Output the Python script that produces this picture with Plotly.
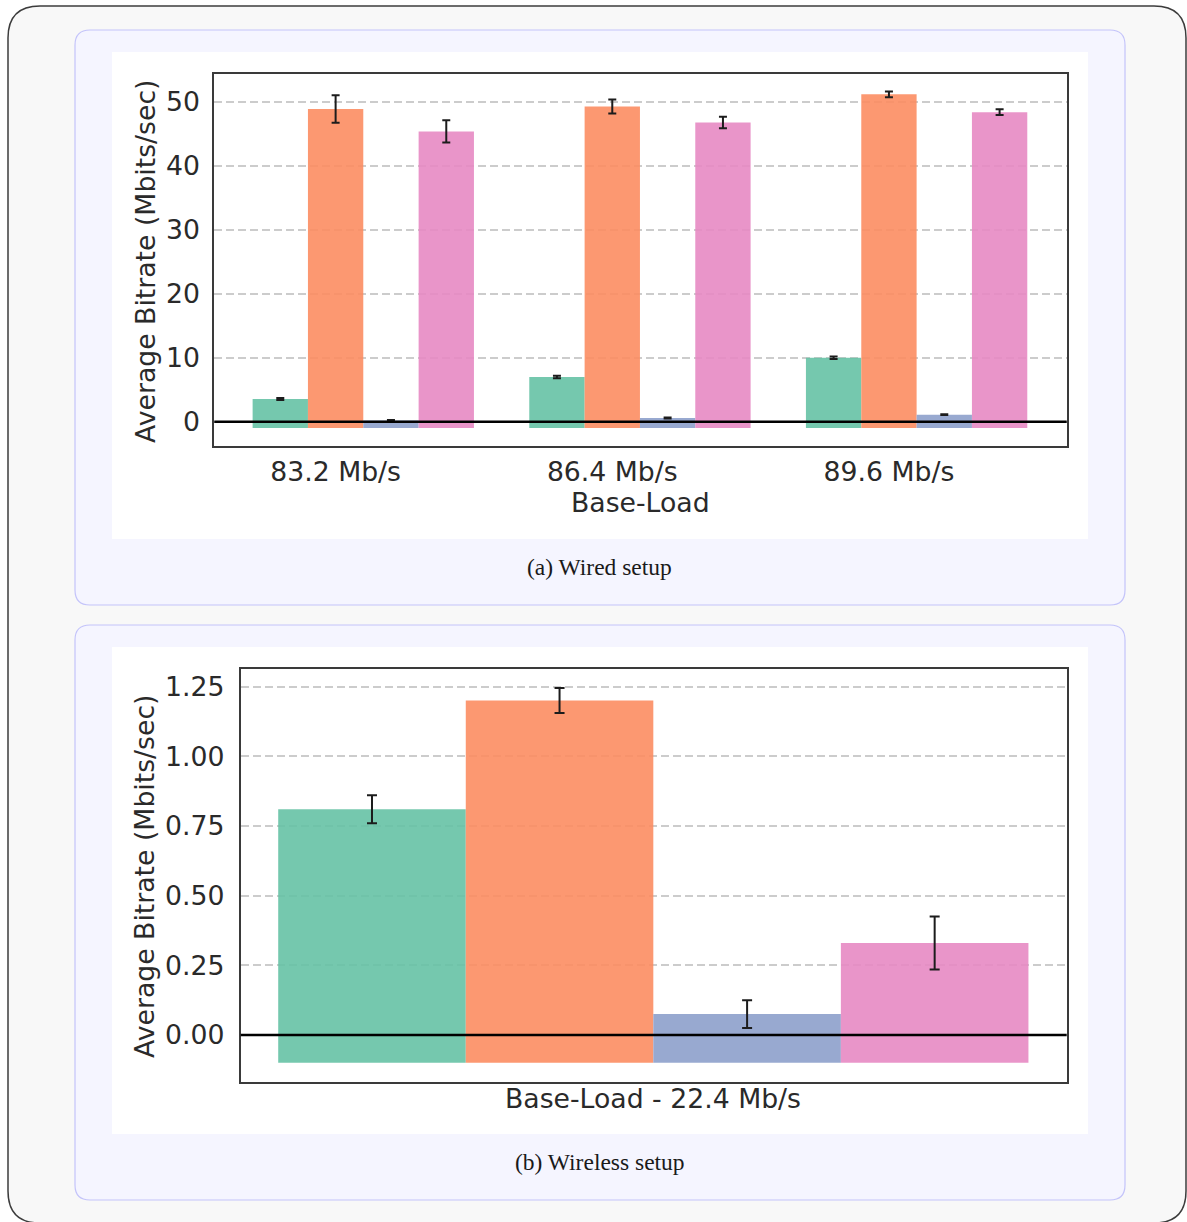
import plotly.graph_objects as go

# ---- data -------------------------------------------------------------
base_loads = ["83.2 Mb/s", "86.4 Mb/s", "89.6 Mb/s"]

wired_green = [3.55, 7.0, 10.0]
wired_green_err = [0.15, 0.2, 0.2]
wired_orange = [48.9, 49.3, 51.2]
wired_orange_err = [2.15, 1.1, 0.45]
wired_blue = [0.2, 0.58, 1.1]
wired_blue_err = [0.08, 0.08, 0.05]
wired_pink = [45.4, 46.8, 48.4]
wired_pink_err = [1.75, 0.9, 0.45]

wireless_label = "Base-Load - 22.4 Mb/s"
wireless_values = [0.81, 1.20, 0.075, 0.33]
wireless_err = [0.05, 0.045, 0.05, 0.095]

y_ticks_wired = [0, 10, 20, 30, 40, 50]
y_ticks_wireless = [0.0, 0.25, 0.5, 0.75, 1.0, 1.25]

# ---- style ------------------------------------------------------------
W, H = 1187, 1222
COLORS = ["#66c2a5", "#fc8d62", "#8da0cb", "#e78ac3"]
BAR_W = 0.2
TEXT = "#2a2a2a"
SANS = "DejaVu Sans"
SERIF = "Liberation Serif"
FS = 26.7


def px(x):
    return x / W


def py(y):
    return 1 - y / H


def rounded_rect(x0, y0, x1, y1, r):
    pts = [
        ("M", [(x0 + r, y0)]),
        ("L", [(x1 - r, y0)]),
        ("Q", [(x1, y0), (x1, y0 + r)]),
        ("L", [(x1, y1 - r)]),
        ("Q", [(x1, y1), (x1 - r, y1)]),
        ("L", [(x0 + r, y1)]),
        ("Q", [(x0, y1), (x0, y1 - r)]),
        ("L", [(x0, y0 + r)]),
        ("Q", [(x0, y0), (x0 + r, y0)]),
    ]
    s = ""
    for cmd, coords in pts:
        s += cmd + " " + " ".join(f"{px(a):.6f},{py(b):.6f}" for a, b in coords) + " "
    return s + "Z"


fig = go.Figure()

# ---- wired panel bars -------------------------------------------------
wired_series = [
    (wired_green, wired_green_err),
    (wired_orange, wired_orange_err),
    (wired_blue, wired_blue_err),
    (wired_pink, wired_pink_err),
]
WIRED_FLOOR = -1.0
for k, (vals, errs) in enumerate(wired_series):
    xs = [i + (k - 1.5) * BAR_W for i in range(len(base_loads))]
    fig.add_trace(go.Bar(
        x=xs, y=[v - WIRED_FLOOR for v in vals], base=WIRED_FLOOR,
        width=BAR_W, marker=dict(color=COLORS[k], line=dict(width=0)),
        opacity=0.9, xaxis="x", yaxis="y", showlegend=False,
    ))
    fig.add_trace(go.Scatter(
        x=xs, y=vals, mode="markers", marker=dict(size=1, opacity=0),
        error_y=dict(type="data", array=errs, visible=True,
                     color="#1c1c1c", thickness=2, width=4),
        xaxis="x", yaxis="y", showlegend=False, hoverinfo="skip",
    ))

# ---- wireless panel bars ----------------------------------------------
WIRELESS_FLOOR = -0.1
for k, (v, e) in enumerate(zip(wireless_values, wireless_err)):
    xk = (k - 1.5) * BAR_W
    fig.add_trace(go.Bar(
        x=[xk], y=[v - WIRELESS_FLOOR], base=WIRELESS_FLOOR,
        width=BAR_W, marker=dict(color=COLORS[k], line=dict(width=0)),
        opacity=0.9, xaxis="x2", yaxis="y2", showlegend=False,
    ))
    fig.add_trace(go.Scatter(
        x=[xk], y=[v], mode="markers", marker=dict(size=1, opacity=0),
        error_y=dict(type="data", array=[e], visible=True,
                     color="#1c1c1c", thickness=2, width=5),
        xaxis="x2", yaxis="y2", showlegend=False, hoverinfo="skip",
    ))

# ---- background cards -------------------------------------------------
shapes = [
    dict(type="path", path=rounded_rect(8, 6, 1186, 1223, 32),
         xref="paper", yref="paper", fillcolor="#f8f8f8",
         line=dict(color="#3c3c3c", width=1.5), layer="below"),
    dict(type="path", path=rounded_rect(75, 30, 1125, 605, 15),
         xref="paper", yref="paper", fillcolor="#f5f5ff",
         line=dict(color="#c4c4fa", width=1.2), layer="below"),
    dict(type="path", path=rounded_rect(75, 625, 1125, 1200, 15),
         xref="paper", yref="paper", fillcolor="#f5f5ff",
         line=dict(color="#c4c4fa", width=1.2), layer="below"),
    dict(type="rect", x0=px(112), x1=px(1088), y0=py(539), y1=py(52),
         xref="paper", yref="paper", fillcolor="white",
         line=dict(width=0), layer="below"),
    dict(type="rect", x0=px(112), x1=px(1088), y0=py(1134), y1=py(647),
         xref="paper", yref="paper", fillcolor="white",
         line=dict(width=0), layer="below"),
    # zero lines drawn over the bars
    dict(type="line", xref="x domain", yref="y", x0=0, x1=1, y0=0, y1=0,
         line=dict(color="black", width=2.5), layer="above"),
    dict(type="line", xref="x2 domain", yref="y2", x0=0, x1=1, y0=0, y1=0,
         line=dict(color="black", width=2.5), layer="above"),
]

axis_common = dict(
    showline=True, mirror=True, linecolor="#3a3a3a", linewidth=2,
    ticks="", zeroline=False, tickfont=dict(family=SANS, size=FS, color=TEXT),
)


def label(text, x, y, font, angle=0):
    return dict(text=text, x=px(x), y=py(y), xref="paper", yref="paper",
                xanchor="center", yanchor="middle", textangle=angle,
                showarrow=False, font=font)


sans_font = dict(family=SANS, size=FS, color=TEXT)
serif_font = dict(family=SERIF, size=23.5, color="#1a1a1a")

annotations = [
    label("Average Bitrate (Mbits/sec)", 145, 261, sans_font, -90),
    label("Base-Load", 640, 503, sans_font),
    label("(a) Wired setup", 600, 567, serif_font),
    label("Average Bitrate (Mbits/sec)", 145, 876, sans_font, -90),
    label(wireless_label, 653, 1098, sans_font),
    label("(b) Wireless setup", 600, 1162, serif_font),
]

grid_style = dict(showgrid=True, gridcolor="#cccccc", griddash="8px,4px",
                  gridwidth=1.5)

fig.update_layout(
    width=W, height=H, margin=dict(l=0, r=0, t=0, b=0),
    paper_bgcolor="white", plot_bgcolor="rgba(0,0,0,0)",
    barmode="overlay", showlegend=False,
    shapes=shapes, annotations=annotations,
    xaxis=dict(
        domain=[px(214.3), px(1066.7)], range=[-0.5385, 2.5425],
        tickvals=[i - 0.1 for i in range(len(base_loads))],
        ticktext=base_loads, showgrid=False, ticklabelstandoff=1,
        anchor="y", **axis_common,
    ),
    yaxis=dict(
        domain=[py(446), py(74.3)], range=[-3.8, 54.33],
        tickvals=y_ticks_wired, ticklabelstandoff=7,
        anchor="x", **grid_style, **axis_common,
    ),
    xaxis2=dict(
        domain=[px(240.7), px(1066.7)], range=[-0.44, 0.4408],
        showticklabels=False, showgrid=False, anchor="y2", **axis_common,
    ),
    yaxis2=dict(
        domain=[py(1081.7), py(669.3)], range=[-0.1676, 1.312],
        tickvals=y_ticks_wireless, tickformat=".2f", ticklabelstandoff=9,
        anchor="x2", **grid_style, **axis_common,
    ),
)

fig.write_html("out.html")
